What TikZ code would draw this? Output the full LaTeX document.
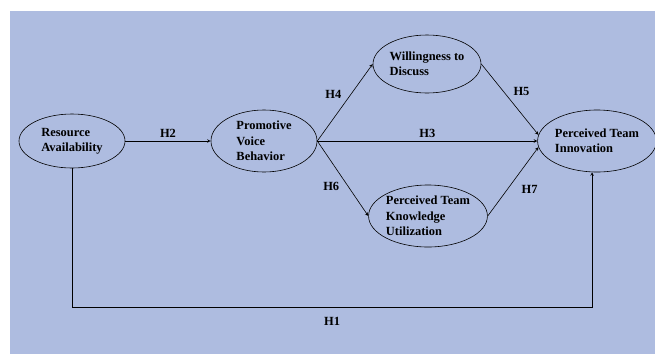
\documentclass[tikz,border=0pt]{standalone}
\usepackage{fontspec}
\setmainfont{Liberation Serif}
\usetikzlibrary{shapes.geometric}
\definecolor{panelblue}{RGB}{174,188,224}

\begin{document}
\begin{tikzpicture}
            [x=1bp, y=-1bp, ->, >=stealth, auto, line width=.6bp,
             font=\bfseries\fontsize{12.5}{15.5}\selectfont,
             construct/.style={shape=ellipse, draw=black, align=left, inner sep=0pt}]
            \useasboundingbox (0,0) rectangle (655,354);
            \fill[panelblue] (10,11) rectangle (655,354);

            \node[construct, minimum width=106bp, minimum height=54bp] (res) at (72,141) {Resource\\Availability};
            \node[construct, minimum width=106bp, minimum height=62bp] (prom) at (264,141) {Promotive\\Voice\\Behavior};
            \node[construct, minimum width=108bp, minimum height=58bp] (will) at (427,64) {Willingness to\\Discuss};
            \node[construct, minimum width=110bp, minimum height=62bp] (know) at (428,216) {Perceived Team\\Knowledge\\Utilization};
            \node[construct, minimum width=116bp, minimum height=62bp] (inov) at (597,141) {Perceived Team\\Innovation};
            \coordinate (h1corner) at (72,307);

            \path (res) edge node {H2} (prom);
            \path (prom.east) edge node {H4} (will.west);
            \path (prom.east) edge node {H3} (inov.west);
            \path (prom.east) edge node[swap] {H6} (know.west);
            \path (will.east) edge node {H5} (inov.174);
            \path (know.east) edge node[swap, xshift=5bp] {H7} (inov.186);
            \draw (res.south) -- (h1corner) -| node[pos=.25, below=7bp] {H1} (inov.-99);
        \end{tikzpicture}
\end{document}
